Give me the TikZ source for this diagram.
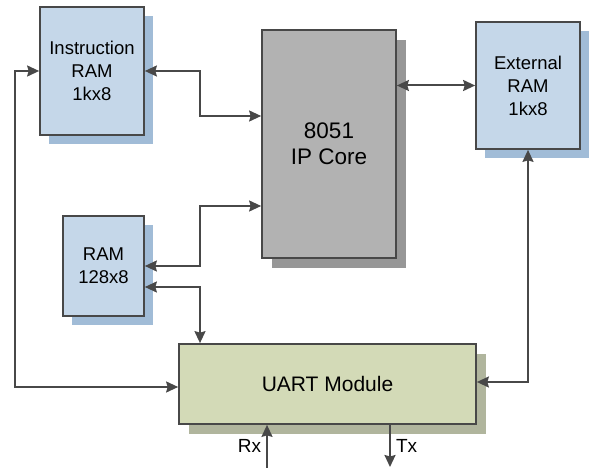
\documentclass[tikz,border=0pt]{standalone}
\usepackage{fontspec}
\setmainfont{Liberation Sans}
\usetikzlibrary{arrows.meta,shadows}

\definecolor{ramblue}{RGB}{197,215,233}
\definecolor{ramshade}{RGB}{161,188,215}
\definecolor{coregray}{RGB}{178,178,178}
\definecolor{coreshade}{RGB}{151,151,151}
\definecolor{uartgreen}{RGB}{211,218,183}
\definecolor{uartshade}{RGB}{176,181,157}
\definecolor{edgegray}{RGB}{72,72,72}

\begin{document}
\begin{tikzpicture}[x=1bp, y=-1bp, >={Stealth[length=12bp,width=11bp,inset=1.5bp]}, line width=1.7bp]
\tikzset{
  blk/.style={draw=edgegray, align=center, inner sep=2pt},
  ramblk/.style={blk, fill=ramblue, general shadow={fill=ramshade, shadow xshift=9bp, shadow yshift=-9bp},
    font=\fontsize{18.5bp}{23bp}\selectfont},
  coreblk/.style={blk, fill=coregray, general shadow={fill=coreshade, shadow xshift=10bp, shadow yshift=-10bp},
    font=\fontsize{22.5bp}{26bp}\selectfont},
  uartblk/.style={blk, fill=uartgreen, general shadow={fill=uartshade, shadow xshift=10bp, shadow yshift=-10bp},
    font=\fontsize{21bp}{25bp}\selectfont},
  link/.style={draw=edgegray, line width=2bp, <->},
  pinlbl/.style={font=\fontsize{19bp}{22bp}\selectfont, inner sep=1pt}
}
\useasboundingbox (0,0) rectangle (589,468);

\node[ramblk, minimum width=104bp, minimum height=128bp] (iram) at (92,71) {Instruction\\RAM\\1kx8};
\node[coreblk, minimum width=134bp, minimum height=228bp] (core) at (329,144) {8051\\IP Core};
\node[ramblk, minimum width=104bp, minimum height=127bp] (xram) at (528,85.5) {External\\RAM\\1kx8};
\node[ramblk, minimum width=81bp, minimum height=100bp] (ram) at (103.5,266) {RAM\\128x8};
\node[uartblk, minimum width=297bp, minimum height=80bp] (uart) at (327.5,384) {UART Module};

\coordinate (rxin) at (267,468);
\coordinate (txout) at (390,467);

\draw[link] (iram.west) -- (15,71) |- ([yshift=-3bp]uart.west);
\draw[link] (iram.east) -- (200,71) |- (core.west |- 0,116);
\draw[link] (core.west |- 0,206) -- (200,206) |- (ram.east);
\draw[link] (ram.east |- 0,287) -| (uart.north -| 200,0);
\draw[link] (core.east |- xram.west) -- (xram.west);
\draw[link] (xram.south) |- ([yshift=2bp]uart.east);

\draw[draw=edgegray, line width=2bp, ->] (rxin) -- (uart.south -| rxin) node[pinlbl, pos=0.5, left=4bp] (rx) {Rx};
\draw[draw=edgegray, line width=2bp, ->] (uart.south -| txout) -- (txout) node[pinlbl, pos=0.5, right=4bp] (tx) {Tx};
\end{tikzpicture}
\end{document}
